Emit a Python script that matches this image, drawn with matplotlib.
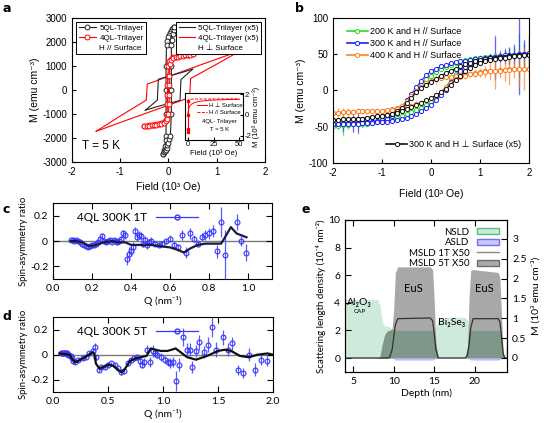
import numpy as np
import matplotlib
matplotlib.use('Agg')
import matplotlib.pyplot as plt
from matplotlib.lines import Line2D
from matplotlib.patches import Patch

plt.rcParams['font.family'] = ['Liberation Sans', 'DejaVu Sans']
plt.rcParams['axes.unicode_minus'] = False
plt.rcParams['xtick.direction'] = 'in'
plt.rcParams['ytick.direction'] = 'in'
plt.rcParams['axes.linewidth'] = 0.8
plt.rcParams['xtick.major.size'] = 3
plt.rcParams['ytick.major.size'] = 3
CAL = ['Lato', 'DejaVu Sans']

# ---------------- panel a : M-H loops at 5 K ----------------
a5_down_x = [0.12, 0.10, 0.08, 0.06, 0.04, 0.02, 0.0, -0.02, -0.04, -0.05, -0.05, -0.05, -0.05, -0.06, -0.08, -0.10, -0.12]
a5_down_y = [2650, 2600, 2550, 2480, 2400, 2300, 2200, 2050, 1900, 1000, 0, -1000, -1900, -2100, -2350, -2500, -2650]
a5_up_x = [-0.12, -0.10, -0.08, -0.06, -0.04, -0.02, 0.0, 0.02, 0.04, 0.06, 0.06, 0.06, 0.06, 0.07, 0.09, 0.11, 0.12]
a5_up_y = [-2650, -2600, -2550, -2480, -2400, -2300, -2200, -2050, -1900, -1000, 0, 1000, 1900, 2100, 2350, 2500, 2650]

a4_down_x = [0.50, 0.45, 0.40, 0.35, 0.30, 0.25, 0.20, 0.15, 0.10, 0.05, 0.02, 0.0, -0.01, -0.02, -0.02, -0.02, -0.03,
             -0.05, -0.10, -0.15, -0.20, -0.25, -0.30, -0.35, -0.40, -0.45, -0.50]
a4_down_y = [1500, 1490, 1480, 1470, 1460, 1450, 1430, 1400, 1360, 1300, 1200, 1000, 600, 200, -200, -600, -1100,
             -1250, -1320, -1370, -1400, -1420, -1440, -1460, -1470, -1480, -1500]
a4_up_x = [-0.50, -0.45, -0.40, -0.35, -0.30, -0.25, -0.20, -0.15, -0.10, -0.05, -0.02, 0.0, 0.01, 0.02, 0.02, 0.02, 0.03,
           0.05, 0.10, 0.15, 0.20, 0.25, 0.30, 0.35, 0.40, 0.45, 0.50]
a4_up_y = [-1500, -1490, -1480, -1470, -1460, -1450, -1430, -1400, -1360, -1300, -1200, -1000, -600, -200, 200, 600, 1100,
           1250, 1320, 1370, 1400, 1420, 1440, 1460, 1470, 1480, 1500]

p5_down_x = [0.5, 0.25, 0.0, -0.21, -0.23, -0.48]
p5_down_y = [870, 720, 580, 450, -420, -840]
p5_up_x = [-0.48, -0.25, 0.0, 0.24, 0.26, 0.5]
p5_up_y = [-840, -700, -560, -430, 440, 870]

p4_down_x = [1.5, 1.0, 0.5, 0.0, -0.44, -0.46, -1.0, -1.5]
p4_down_y = [1650, 1290, 930, 570, 250, -420, -1080, -1720]
p4_up_x = [-1.5, -1.0, -0.5, 0.0, 0.44, 0.46, 1.0, 1.5]
p4_up_y = [-1720, -1350, -990, -630, -310, 480, 1080, 1650]

# inset (10^3 Oe, 10^3 emu/cm3)
in_perp_x = [0, 1, 2, 4, 7, 10, 15, 20, 30, 40, 50]
in_perp_y = [0.0, 0.6, 0.85, 1.05, 1.2, 1.28, 1.35, 1.4, 1.45, 1.48, 1.5]
in_par_x = [0, 0.5, 1, 3, 10, 20, 30, 40, 50]
in_par_y = [1.3, 1.45, 1.5, 1.52, 1.53, 1.53, 1.54, 1.54, 1.55]
in_sw_x = [0, 0, 0, 0]
in_sw_y = [-1.6, -1.3, 0.0, 1.3]

# ---------------- panel b : loops at high temperature ----------------
fb = [-2.0, -1.9, -1.8, -1.7, -1.6, -1.5, -1.4, -1.3, -1.2, -1.1,
      -1.0, -0.9, -0.8, -0.7, -0.6, -0.5, -0.4, -0.3, -0.2, -0.1,
      0.0, 0.1, 0.2, 0.3, 0.4, 0.5, 0.6, 0.7, 0.8, 0.9,
      1.0, 1.1, 1.2, 1.3, 1.4, 1.5, 1.6, 1.7, 1.8, 1.9, 2.0]

g_down = [-48, -48, -47, -47, -46, -46, -45, -44, -43, -42,
          -41, -39, -37, -33, -27, -18, -10, -2, 8, 15,
          20, 25, 29, 32, 35, 38, 40, 42, 43, 44,
          45, 46, 46, 47, 47, 48, 48, 49, 49, 50, 50]
g_up = [-49, -49, -48, -48, -47, -47, -46, -46, -45, -44,
        -43, -42, -40, -38, -36, -33, -30, -27, -24, -20,
        -16, -10, -3, 5, 14, 22, 28, 33, 36, 39,
        41, 43, 44, 45, 46, 47, 47, 48, 49, 49, 50]
g_err = [8, 5, 15, 6, 4, 5, 3, 3, 3, 2,
         2, 2, 2, 2, 2, 2, 2, 2, 2, 2,
         2, 2, 2, 2, 2, 2, 2, 2, 2, 3,
         3, 3, 4, 5, 6, 8, 12, 10, 30, 15, 20]

bl_down = [-46, -46, -45, -45, -45, -44, -44, -43, -43, -42,
           -41, -39, -36, -31, -24, -14, -5, 4, 13, 21,
           26, 30, 33, 35, 37, 39, 40, 41, 42, 43,
           44, 45, 46, 46, 47, 48, 48, 49, 50, 50, 51]
bl_up = [-47, -47, -47, -46, -46, -46, -45, -45, -45, -44,
         -44, -43, -42, -41, -40, -38, -36, -33, -29, -25,
         -20, -14, -7, 1, 11, 20, 27, 32, 35, 38,
         40, 42, 43, 44, 45, 46, 47, 48, 49, 50, 51]
bl_err = [6, 4, 10, 5, 12, 14, 6, 4, 3, 3,
          2, 2, 2, 2, 2, 2, 2, 2, 2, 2,
          2, 2, 2, 2, 2, 2, 2, 2, 2, 3,
          3, 4, 6, 30, 8, 10, 12, 15, 55, 20, 25]

o_down = [-31, -31, -30, -30, -30, -29, -29, -29, -28, -28,
          -28, -27, -26, -24, -21, -15, -8, -1, 5, 10,
          13, 15, 17, 18, 19, 20, 21, 22, 23, 24,
          25, 26, 27, 27, 28, 28, 29, 29, 29, 30, 30]
o_up = [-31, -31, -30, -30, -30, -29, -29, -29, -28, -28,
        -28, -27, -27, -26, -25, -23, -21, -19, -17, -14,
        -11, -7, -2, 4, 10, 15, 18, 20, 22, 23,
        24, 25, 26, 27, 27, 28, 28, 29, 29, 30, 30]
o_err = [8, 6, 5, 5, 4, 4, 3, 3, 3, 3,
         2, 2, 2, 2, 2, 3, 3, 5, 4, 3,
         3, 8, 3, 3, 3, 3, 3, 4, 4, 5,
         6, 8, 12, 25, 10, 15, 20, 12, 25, 30, 12]

k_down = [-41, -41, -40, -40, -40, -39, -39, -38, -37, -36,
          -35, -34, -32, -29, -25, -18, -10, -3, 3, 8,
          12, 16, 20, 24, 27, 30, 33, 36, 38, 40,
          42, 43, 44, 45, 46, 46, 47, 47, 48, 48, 48]
k_up = [-41, -41, -40, -40, -40, -39, -39, -38, -37, -36,
        -35, -34, -33, -31, -29, -26, -23, -20, -17, -14,
        -11, -7, -3, 2, 8, 14, 20, 26, 31, 35,
        38, 40, 42, 43, 44, 45, 46, 47, 47, 48, 48]
k_err = [3, 3, 3, 3, 2, 2, 2, 2, 2, 2,
         2, 2, 2, 2, 2, 2, 2, 2, 2, 2,
         2, 2, 2, 2, 2, 2, 2, 2, 2, 2,
         2, 2, 2, 2, 3, 3, 3, 3, 3, 3, 3]

# ---------------- panel c : spin asymmetry 1T ----------------
qc = [0.09, 0.10, 0.11, 0.12, 0.13, 0.14, 0.15, 0.16, 0.17, 0.18,
      0.19, 0.20, 0.21, 0.22, 0.23, 0.24, 0.25, 0.26, 0.27, 0.28,
      0.29, 0.30, 0.31, 0.32, 0.33, 0.34, 0.35, 0.36, 0.37, 0.38,
      0.39, 0.40, 0.41, 0.42, 0.43, 0.44, 0.45, 0.46, 0.47, 0.48,
      0.49, 0.50,
      0.52, 0.54, 0.56, 0.58, 0.60, 0.62, 0.64, 0.66, 0.68, 0.70,
      0.72, 0.74, 0.76, 0.78, 0.80, 0.82, 0.84, 0.86, 0.88,
      0.94, 0.96, 0.99]
sc = [0.01, 0.01, 0.0, 0.01, 0.0, -0.01, -0.02, -0.03, -0.04, -0.05,
      -0.04, -0.03, -0.03, -0.02, -0.01, 0.02, 0.04, 0.0, -0.01, 0.0,
      0.01, -0.01, 0.01, 0.0, -0.01, 0.0, 0.02, 0.06, 0.05, -0.14,
      -0.10, -0.08, -0.05, 0.08, 0.03, 0.05, 0.04, -0.02, 0.01, -0.03,
      -0.01, 0.0,
      -0.02, -0.03, -0.02, 0.0, 0.02, -0.03, -0.05, 0.05, -0.09, 0.06,
      0.02, -0.02, 0.03, 0.05, 0.06, 0.08, -0.08, 0.15, -0.11,
      0.15, 0.0, -0.09]
ec = [0.01, 0.01, 0.01, 0.01, 0.01, 0.01, 0.01, 0.01, 0.01, 0.01,
      0.01, 0.01, 0.01, 0.01, 0.015, 0.015, 0.02, 0.015, 0.015, 0.015,
      0.015, 0.015, 0.015, 0.015, 0.02, 0.02, 0.02, 0.03, 0.03, 0.05,
      0.05, 0.04, 0.04, 0.03, 0.03, 0.03, 0.03, 0.03, 0.03, 0.03,
      0.03, 0.03,
      0.02, 0.02, 0.02, 0.02, 0.03, 0.03, 0.03, 0.04, 0.04, 0.04,
      0.03, 0.03, 0.03, 0.04, 0.04, 0.05, 0.05, 0.12, 0.2,
      0.06, 0.04, 0.07]
fqc = [0.09, 0.12, 0.15, 0.17, 0.19, 0.22, 0.26, 0.30, 0.34, 0.37,
       0.40, 0.45, 0.50, 0.55, 0.60, 0.64, 0.67, 0.70, 0.74, 0.78,
       0.82, 0.86, 0.88, 0.91, 0.94, 0.99]
fc = [0.0, 0.0, -0.01, -0.03, -0.04, -0.03, -0.01, 0.0, -0.01, -0.01,
      -0.03, -0.03, -0.03, -0.04, -0.05, -0.07, -0.09, -0.06, -0.03, -0.02,
      -0.02, -0.02, 0.03, 0.11, 0.06, 0.03]

# ---------------- panel d : spin asymmetry 5T ----------------
qd = [0.07, 0.08, 0.09, 0.10, 0.11, 0.12, 0.13, 0.14, 0.15, 0.16, 0.17, 0.18,
      0.20, 0.23, 0.27, 0.30, 0.33, 0.36, 0.385, 0.395,
      0.42, 0.44, 0.47, 0.50, 0.53, 0.56, 0.59, 0.62, 0.65, 0.68,
      0.71, 0.74, 0.76, 0.79, 0.81, 0.83, 0.855, 0.88, 0.91, 0.93,
      0.95, 0.98, 1.015, 1.045, 1.065, 1.09, 1.115, 1.145, 1.18, 1.22,
      1.25, 1.265, 1.30, 1.33, 1.37, 1.41, 1.45, 1.485, 1.545, 1.59,
      1.63, 1.68, 1.73, 1.78, 1.84, 1.89, 1.95]
sd = [0.01, 0.01, 0.01, 0.01, 0.01, 0.01, 0.01, 0.0, 0.0, -0.01, -0.03, -0.05,
      -0.06, -0.045, -0.03, -0.02, 0.01, 0.03, 0.06, -0.02,
      -0.12, -0.10, -0.10, -0.08, -0.07, -0.08, -0.11, -0.14, -0.13, -0.07,
      -0.045, -0.03, -0.02, -0.05, -0.08, -0.06, 0.04, -0.06, 0.03, 0.01,
      0.0, -0.02, -0.04, -0.06, -0.07, -0.06, -0.21, -0.08, 0.14, 0.04,
      0.04, -0.10, 0.03, 0.10, 0.02, 0.08, 0.22, 0.04, 0.14, 0.04,
      0.09, -0.12, -0.15, 0.0, -0.12, -0.04, -0.05]
ed = [0.01, 0.01, 0.01, 0.01, 0.01, 0.01, 0.01, 0.01, 0.01, 0.01, 0.01, 0.01,
      0.015, 0.015, 0.015, 0.015, 0.02, 0.02, 0.03, 0.02,
      0.02, 0.015, 0.015, 0.015, 0.015, 0.015, 0.015, 0.02, 0.02, 0.02,
      0.02, 0.02, 0.02, 0.03, 0.03, 0.03, 0.04, 0.04, 0.05, 0.03,
      0.03, 0.03, 0.03, 0.03, 0.04, 0.04, 0.08, 0.05, 0.07, 0.05,
      0.05, 0.05, 0.05, 0.06, 0.05, 0.06, 0.08, 0.06, 0.06, 0.05,
      0.05, 0.04, 0.04, 0.05, 0.05, 0.04, 0.04]
fqd = [0.06, 0.15, 0.18, 0.20, 0.23, 0.27, 0.31, 0.36, 0.375, 0.39,
       0.42, 0.46, 0.50, 0.55, 0.59, 0.62, 0.65, 0.70, 0.75, 0.80,
       0.85, 0.89, 0.93, 0.98, 1.04, 1.08, 1.115, 1.16, 1.22, 1.30,
       1.40, 1.50, 1.56, 1.62, 1.70, 1.78, 1.86, 1.95, 2.0]
fd = [0.01, 0.0, -0.04, -0.06, -0.05, -0.03, -0.01, 0.02, 0.01, -0.07,
      -0.11, -0.10, -0.08, -0.09, -0.12, -0.14, -0.12, -0.05, -0.03, -0.02,
      -0.01, 0.05, 0.04, 0.03, 0.03, 0.04, 0.05, 0.02, -0.02, -0.04,
      -0.01, 0.03, 0.04, 0.03, -0.01, -0.02, 0.0, 0.01, 0.0]

# ---------------- panel e : depth profiles ----------------
depth = [4.0, 8.0, 8.3, 8.6, 8.9, 9.2, 9.5, 9.8, 10.0, 10.2, 10.5, 14.5, 14.8, 15.0,
         15.2, 15.5, 15.8, 18.8, 19.1, 19.3, 19.5, 19.8, 22.9, 23.1, 23.3, 23.5, 23.7, 24.0]
nsld = [4.25, 4.25, 3.8, 2.6, 2.3, 2.3, 2.25, 2.1, 2.0, 2.0, 2.0, 2.0, 2.0, 2.0,
        2.3, 2.85, 2.95, 2.95, 2.7, 2.2, 2.0, 2.0, 2.0, 1.9, 1.2, 0.3, 0.2, 1.2]
msld5 = [0, 0, 0.1, 1.0, 1.7, 1.95, 2.0, 2.1, 3.5, 6.2, 6.6, 6.6, 6.4, 4.0,
         1.0, 0, 0, 0, 0.8, 4.5, 6.35, 6.4, 6.2, 5.8, 3.0, 0.5, 0, 0]
msld1 = [0, 0, 0, 0, 0, 0, 0.05, 0.6, 1.5, 2.4, 2.85, 2.9, 2.7, 1.8,
         0.6, 0, 0, 0, 0.2, 1.0, 2.2, 2.85, 2.85, 2.6, 1.5, 0.3, 0, 0]
asld = [0, 0, 0, 0, 0, 0, 0, 0, -0.05, -0.15, -0.15, -0.15, -0.15, -0.1,
        0, 0, 0, 0, 0, -0.05, -0.15, -0.15, -0.15, -0.1, 0, 0, 0, 0]

fig = plt.figure(figsize=(5.46, 4.23), dpi=100)

# ---- a ----
ax = fig.add_axes([0.132, 0.617, 0.353, 0.340])
mk = dict(marker='o', mfc='white', ms=3.5, mew=0.7, lw=0.8)
ax.plot(p4_down_x, p4_down_y, color='red', lw=0.8)
ax.plot(p4_up_x, p4_up_y, color='red', lw=0.8)
ax.plot(p5_down_x, p5_down_y, color='#222222', lw=0.8)
ax.plot(p5_up_x, p5_up_y, color='#222222', lw=0.8)
ax.plot(a5_down_x, a5_down_y, color='#222222', **mk)
ax.plot(a5_up_x, a5_up_y, color='#222222', **mk)
ax.plot(a4_down_x, a4_down_y, color='red', **mk)
ax.plot(a4_up_x, a4_up_y, color='red', **mk)
ax.set_xlim(-2, 2)
ax.set_ylim(-3000, 3000)
ax.set_xticks([-2, -1, 0, 1, 2])
ax.set_yticks([-3000, -2000, -1000, 0, 1000, 2000, 3000])
ax.tick_params(labelsize=7)
ax.set_xlabel('Field (10³ Oe)', fontsize=7.5)
ax.set_ylabel('M (emu cm⁻³)', fontsize=7.5, labelpad=2)
ax.text(-1.8, -2450, 'T = 5 K', fontsize=8.5)
h1 = [Line2D([], [], color='#222222', **mk), Line2D([], [], color='red', **mk), Line2D([], [], lw=0)]
lg1 = ax.legend(h1, ['5QL-Trilayer', '4QL-Trilayer', 'H // Surface'], loc='upper left',
                bbox_to_anchor=(0.0, 1.0), fontsize=5.8, fancybox=False, edgecolor='k',
                framealpha=1, handlelength=2.2, borderpad=0.3, labelspacing=0.25, handletextpad=0.4)
lg1.get_frame().set_linewidth(0.7)
ax.add_artist(lg1)
h2 = [Line2D([], [], color='#222222', lw=0.8), Line2D([], [], color='red', lw=0.8), Line2D([], [], lw=0)]
lg2 = ax.legend(h2, ['5QL-Trilayer (x5)', '4QL-Trilayer (x5)', 'H ⊥ Surface'], loc='upper right',
                bbox_to_anchor=(1.0, 1.0), fontsize=5.8, fancybox=False, edgecolor='k',
                framealpha=1, handlelength=2.0, borderpad=0.3, labelspacing=0.25, handletextpad=0.4)
lg2.get_frame().set_linewidth(0.7)

ins = fig.add_axes([0.339, 0.669, 0.106, 0.111])
ins.plot(in_sw_x, in_sw_y, color='red', lw=0.8, marker='s', ms=1.5)
ins.plot(in_perp_x, in_perp_y, color='red', lw=0.7)
ins.plot(in_par_x, in_par_y, color='red', lw=0.7, ls=(0, (3, 1.5)))
ins.set_xlim(-2.5, 53.5)
ins.set_ylim(-2.4, 2.1)
ins.set_xticks([0, 25, 50])
ins.set_yticks([-2, 0, 2])
ins.yaxis.tick_right()
ins.yaxis.set_label_position('right')
ins.tick_params(labelsize=5.5, length=2, pad=1)
ins.set_xlabel('Field (10³ Oe)', fontsize=5.5, labelpad=1)
ins.set_ylabel('M (10³ emu cm⁻³)', fontsize=5.5, labelpad=1)
hl = [Line2D([], [], color='red', lw=0.7), Line2D([], [], color='red', lw=0.7, ls=(0, (3, 1.5)))]
ins.legend(hl, ['H ⊥ Surface', 'H // Surface'], loc='center', bbox_to_anchor=(0.6, 0.66), frameon=False,
           fontsize=4.3, handlelength=1.8, labelspacing=0.2, borderpad=0.1, handletextpad=0.3)
ins.text(0.6, 0.39, '4QL- Trilayer', transform=ins.transAxes, fontsize=4.3, ha='center', va='center')
ins.text(0.6, 0.23, 'T = 5 K', transform=ins.transAxes, fontsize=4.3, ha='center', va='center')

# ---- b ----
bx = fig.add_axes([0.610, 0.615, 0.359, 0.343])
series_b = [(g_down, g_up, g_err, '#22dd22', '200 K and H // Surface'),
            (bl_down, bl_up, bl_err, '#1f1fff', '300 K and H // Surface'),
            (o_down, o_up, o_err, '#ff7f1e', '400 K and H // Surface'),
            (k_down, k_up, k_err, '#111111', '300 K and H ⊥ Surface (x5)')]
hb = []
for dn, up, er, col, lab in series_b:
    for br in (dn, up):
        bx.errorbar(fb, br, yerr=er, fmt='-o', color=col, mfc='white', ms=3, mew=0.7, lw=0.8,
                    ecolor=matplotlib.colors.to_rgba(col, 0.45), elinewidth=0.9, capsize=0)
    hb.append(Line2D([], [], color=col, marker='o', mfc='white', ms=3, mew=0.7, lw=1.2))
bx.set_xlim(-2, 2)
bx.set_ylim(-100, 100)
bx.set_xticks([-2, -1, 0, 1, 2])
bx.set_yticks([-100, -50, 0, 50, 100])
bx.tick_params(labelsize=7)
bx.set_xlabel('Field (10³ Oe)', fontsize=7.5, labelpad=8)
bx.set_ylabel('M (emu cm⁻³)', fontsize=7.5, labelpad=2)
lb1 = bx.legend(hb[:3], [s[4] for s in series_b[:3]], loc='upper left', bbox_to_anchor=(0.03, 0.99),
                frameon=False, fontsize=6.5, handlelength=2.3, labelspacing=0.3, handletextpad=0.2)
bx.add_artist(lb1)
bx.legend(hb[3:], [series_b[3][4]], loc='lower right', bbox_to_anchor=(1.0, 0.04), frameon=False,
          fontsize=6.5, handlelength=2.3, handletextpad=0.2)


# ---- c, d ----
def sa_panel(rect, q, s, e, fq, f, xlim, xticks, label, fitcol):
    cx = fig.add_axes(rect)
    cx.axhline(0, color='#7a7a7a', lw=1.0, zorder=1)
    cx.errorbar(q, s, yerr=e, fmt='o', color='#3636ff', mfc='none', ms=3.5, mew=0.8,
                ecolor='#5a5aff', elinewidth=0.9, capsize=0, zorder=2)
    cx.plot(fq, f, color=fitcol, lw=1.6, zorder=3)
    cx.set_xlim(*xlim)
    cx.set_ylim(-0.3, 0.3)
    cx.set_xticks(xticks)
    cx.set_xticklabels(['%.1f' % t for t in xticks], family=CAL)
    cx.set_yticks([-0.2, 0, 0.2])
    cx.set_yticklabels(['-0.2', '0', '0.2'], family=CAL)
    cx.tick_params(labelsize=7.5, top=True, right=True, length=4)
    cx.set_xlabel('Q (nm⁻¹)', fontsize=7.5, family=CAL, labelpad=2)
    cx.set_ylabel('Spin-asymmetry ratio', fontsize=6.8, family=CAL, labelpad=1)
    h = Line2D([], [], color='#3636ff', marker='o', mfc='none', ms=3.5, lw=0.9)
    cx.legend([h], [label], loc='upper left', bbox_to_anchor=(0.06, 1.02), frameon=False,
              markerfirst=False, handlelength=3.5, prop={'family': CAL, 'size': 8.5})
    return cx


sa_panel([0.097, 0.340, 0.401, 0.180], qc, sc, ec, fqc, fc, (0, 1.12),
         [0.0, 0.2, 0.4, 0.6, 0.8, 1.0], '4QL 300K 1T', '#1a1a40')
sa_panel([0.097, 0.073, 0.403, 0.177], qd, sd, ed, fqd, fd, (0, 2.0),
         [0.0, 0.5, 1.0, 1.5, 2.0], '4QL 300K 5T', '#111111')

# ---- e ----
ex = fig.add_axes([0.632, 0.121, 0.297, 0.359])
ex.fill_between(depth, 0, nsld, color='#cdeadb', lw=0, zorder=1)
ex.fill_between(depth, 0, msld5, color='#a8a8a8', lw=0, zorder=2)
ex.fill_between(depth, 0, np.minimum(nsld, msld5), color='#7f9788', lw=0, zorder=3)
ex.fill_between(depth, asld, 0, color='#b9b9ff', lw=0, zorder=3)
ex.plot(depth, msld1, color='#303030', lw=0.9, zorder=4)
ex.set_xlim(4, 24)
ex.set_ylim(-1, 10)
ex.set_xticks([5, 10, 15, 20])
ex.set_yticks([0, 2, 4, 6, 8, 10])
ex.set_xticklabels(['5', '10', '15', '20'], family=CAL)
ex.set_yticklabels(['0', '2', '4', '6', '8', '10'], family=CAL)
ex.tick_params(labelsize=7.5, top=True, length=4)
ex.set_xlabel('Depth (nm)', fontsize=7.5, family=CAL, labelpad=2)
ex.set_ylabel('Scattering length density (10⁻⁴ nm⁻²)', fontsize=7, family=CAL, labelpad=2)
ex.text(12.4, 5.0, 'EuS', fontsize=8, family=CAL, ha='center', va='center', zorder=5)
ex.text(21.2, 5.0, 'EuS', fontsize=8, family=CAL, ha='center', va='center', zorder=5)
ex.text(5.8, 4.0, 'Al₂O₃', fontsize=7.5, family=CAL, ha='center', va='center', zorder=5)
ex.text(5.8, 3.35, 'CAP', fontsize=4.5, family=CAL, ha='center', va='center', zorder=5)
ex.text(17.2, 2.6, 'Bi₂Se₃', fontsize=7.5, family=CAL, ha='center', va='center', zorder=5)
he = [Patch(facecolor='#cdeadb', edgecolor='#55bb88', lw=1),
      Patch(facecolor='#c8c8ff', edgecolor='#6f6fff', lw=1),
      Line2D([], [], color='#8a8a8a', lw=1),
      Patch(facecolor='#a8a8a8', edgecolor='#6e6e6e', lw=1)]
ex.legend(he, ['NSLD', 'ASLD', 'MSLD 1T X50', 'MSLD 5T X50'], loc='upper right', bbox_to_anchor=(1.0, 1.0),
          frameon=False, markerfirst=False, handlelength=2.3, handleheight=0.6, labelspacing=0.15,
          borderpad=0.3, prop={'family': CAL, 'size': 7})
ex2 = ex.twinx()
ex2.set_ylim(-0.35, 3.48)
ex2.set_yticks([0, 0.5, 1, 1.5, 2, 2.5, 3])
ex2.set_yticklabels(['0', '0.5', '1', '1.5', '2', '2.5', '3'], family=CAL)
ex2.tick_params(labelsize=7.5, length=4)
ex2.set_ylabel('M (10³ emu cm⁻³)', fontsize=7.5, family=CAL, labelpad=3)

for lab, x, y in [('a', 0.004, 0.972), ('b', 0.540, 0.972), ('c', 0.004, 0.497), ('d', 0.004, 0.243),
                  ('e', 0.553, 0.497)]:
    fig.text(x, y, lab, fontsize=9, fontweight='bold', family=['DejaVu Sans'])

fig.savefig('out.png', dpi=100)
